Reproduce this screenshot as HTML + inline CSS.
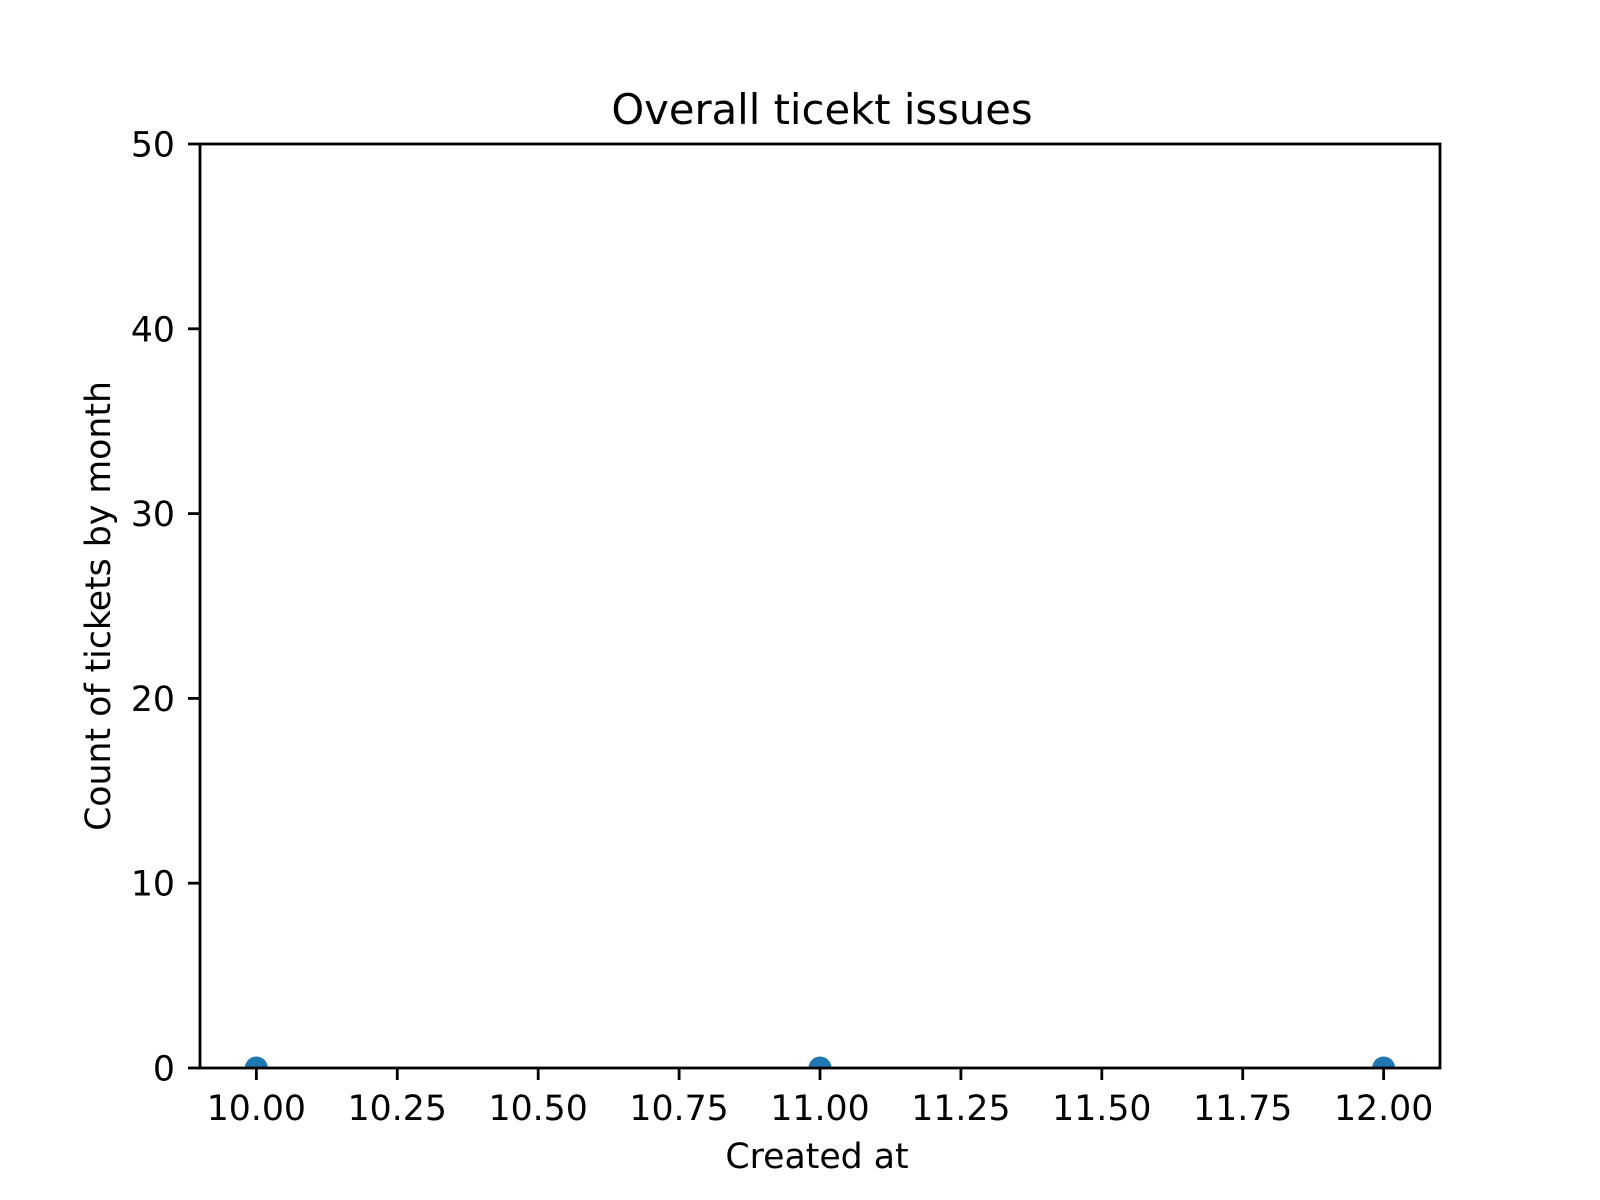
<!DOCTYPE html>
<html><head><meta charset="utf-8"><style>
html,body{margin:0;padding:0;background:#fff;}
svg{display:block;font-family:"DejaVu Sans","Liberation Sans",sans-serif;}
</style></head><body>
<svg id="chart" width="1600" height="1200" viewBox="0 0 1600 1200">
<defs><clipPath id="plotclip"><rect x="200" y="144" width="1240" height="924"/></clipPath></defs>
<rect width="1600" height="1200" fill="#fff"/>
<text x="822" y="124" font-size="41.7" text-anchor="middle" fill="#000">Overall ticekt issues</text>
<g id="points" clip-path="url(#plotclip)"></g>
<g id="xticks"></g>
<g id="yticks"></g>
<rect x="200" y="144" width="1240" height="924" fill="none" stroke="#000" stroke-width="2.8"/>
<text x="817" y="1168" font-size="34.7" text-anchor="middle" fill="#000">Created at</text>
<text transform="translate(110,606) rotate(-90)" font-size="34.7" text-anchor="middle" fill="#000">Count of tickets by month</text>
</svg>
<script>
const months = [10, 11, 12];
const counts = [0, 0, 0];
const xTickValues = [10, 10.25, 10.5, 10.75, 11, 11.25, 11.5, 11.75, 12];
const yTickValues = [0, 10, 20, 30, 40, 50];
const NS = "http://www.w3.org/2000/svg";
const L=200,R=1440,T=144,B=1068, xmin=9.9,xmax=12.1,ymin=0,ymax=50;
function xs(v){return L+(v-xmin)/(xmax-xmin)*(R-L);}
function ys(v){return B-(v-ymin)/(ymax-ymin)*(B-T);}
function mk(tag,attrs,parent){const e=document.createElementNS(NS,tag);for(const k in attrs)e.setAttribute(k,attrs[k]);parent.appendChild(e);return e;}
const gx=document.getElementById('xticks'), gy=document.getElementById('yticks'), gp=document.getElementById('points');
xTickValues.forEach(v=>{
  const x=xs(v);
  const l=mk('line',{x1:x,x2:x,y1:B,y2:B+12,stroke:'#000','stroke-width':2.8},gx);
  
  
  const t=mk('text',{x:x,y:B+52,'font-size':34.7,'text-anchor':'middle',fill:'#000'},gx);
  t.textContent=v.toFixed(2);
  
  
});
yTickValues.forEach(v=>{
  const y=ys(v);
  const l=mk('line',{x1:L-12,x2:L,y1:y,y2:y,stroke:'#000','stroke-width':2.8},gy);
  
  
  const t=mk('text',{x:L-25,y:y+12.5,'font-size':34.7,'text-anchor':'end',fill:'#000'},gy);
  t.textContent=String(v);
  
  
});
months.forEach((m,i)=>{
  const c=mk('circle',{cx:xs(m),cy:ys(counts[i]),r:11.5,fill:'#1f77b4'},gp);
  
  
});
</script>
</body></html>
